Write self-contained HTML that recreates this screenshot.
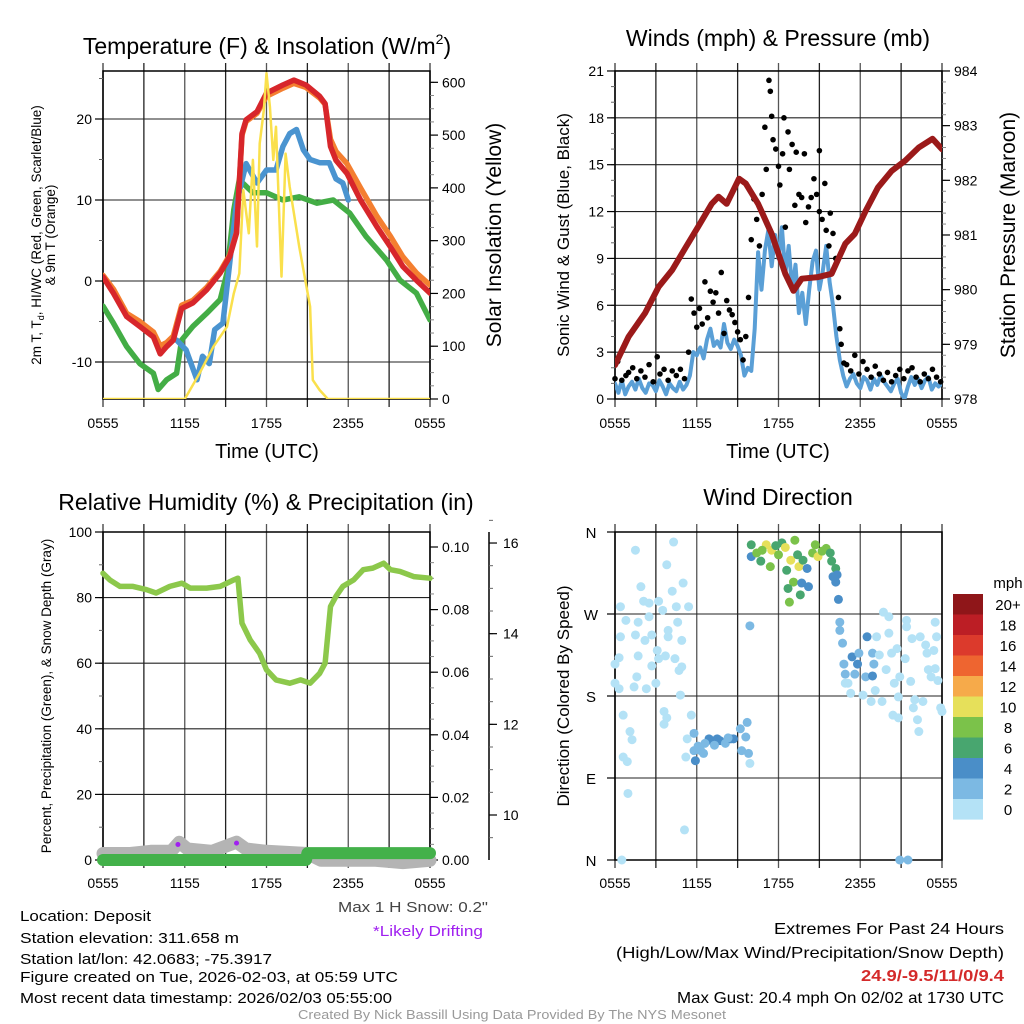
<!DOCTYPE html>
<html><head><meta charset="utf-8"><title>Deposit Meteogram</title>
<style>
html,body{margin:0;padding:0;background:#fff;}
svg{display:block;font-family:"Liberation Sans",Arial,sans-serif;}
</style></head>
<body>
<svg id="c" width="1024" height="1024" viewBox="0 0 1024 1024" xmlns="http://www.w3.org/2000/svg">
<defs>
<clipPath id="clipL1"><rect x="103" y="71" width="327" height="328"/></clipPath>
<clipPath id="clipR1"><rect x="615" y="71" width="327" height="328"/></clipPath>
<clipPath id="clipL2"><rect x="90" y="520" width="352" height="352"/></clipPath>
<clipPath id="clipR2"><rect x="605" y="526" width="345" height="340"/></clipPath>
</defs>
<rect x="0" y="0" width="1024" height="1024" fill="#fff"/>
<g id="layer"></g>

<text x="267" y="54" font-size="23" text-anchor="middle">Temperature (F) &amp; Insolation (W/m<tspan font-size="14" dy="-10">2</tspan><tspan dy="10">)</tspan></text>
<text x="778" y="46" font-size="23" text-anchor="middle">Winds (mph) &amp; Pressure (mb)</text>
<text x="266" y="510" font-size="23" text-anchor="middle">Relative Humidity (%) &amp; Precipitation (in)</text>
<text x="778" y="505" font-size="23" text-anchor="middle">Wind Direction</text>

<text x="267" y="458" font-size="20" text-anchor="middle">Time (UTC)</text>
<text x="778" y="458" font-size="20" text-anchor="middle">Time (UTC)</text>

<text transform="translate(41,235) rotate(-90)" font-size="13.5" text-anchor="middle">2m T, T<tspan font-size="9" dy="3">d</tspan><tspan dy="-3">, HI/WC (Red, Green, Scarlet/Blue)</tspan></text>
<text transform="translate(55,235) rotate(-90)" font-size="13.5" text-anchor="middle">&amp; 9m T (Orange)</text>
<text transform="translate(501,235) rotate(-90)" font-size="21" text-anchor="middle">Solar Insolation (Yellow)</text>
<text transform="translate(569,235) rotate(-90)" font-size="17" text-anchor="middle">Sonic Wind &amp; Gust (Blue, Black)</text>
<text transform="translate(1015,235) rotate(-90)" font-size="21" text-anchor="middle">Station Pressure (Maroon)</text>
<text transform="translate(51,696) rotate(-90)" font-size="13.5" text-anchor="middle">Percent, Precipitation (Green), &amp; Snow Depth (Gray)</text>
<text transform="translate(569,696) rotate(-90)" font-size="17" text-anchor="middle">Direction (Colored By Speed)</text>

<text x="413" y="912" font-size="15" fill="#444" text-anchor="middle" textLength="150" lengthAdjust="spacingAndGlyphs">Max 1 H Snow: 0.2"</text>
<text x="428" y="936" font-size="15" fill="#a020f0" text-anchor="middle" textLength="110" lengthAdjust="spacingAndGlyphs">*Likely Drifting</text>
<text x="20" y="921" font-size="15" textLength="131" lengthAdjust="spacingAndGlyphs">Location: Deposit</text>
<text x="20" y="943" font-size="15" textLength="219" lengthAdjust="spacingAndGlyphs">Station elevation: 311.658 m</text>
<text x="20" y="964" font-size="15" textLength="252" lengthAdjust="spacingAndGlyphs">Station lat/lon: 42.0683; -75.3917</text>
<text x="20" y="982" font-size="15" textLength="378" lengthAdjust="spacingAndGlyphs">Figure created on Tue, 2026-02-03, at 05:59 UTC</text>
<text x="20" y="1003" font-size="15" textLength="372" lengthAdjust="spacingAndGlyphs">Most recent data timestamp: 2026/02/03 05:55:00</text>
<text x="1004" y="934" font-size="16" text-anchor="end" textLength="230" lengthAdjust="spacingAndGlyphs">Extremes For Past 24 Hours</text>
<text x="1004" y="958" font-size="16" text-anchor="end" textLength="388" lengthAdjust="spacingAndGlyphs">(High/Low/Max Wind/Precipitation/Snow Depth)</text>
<text x="1004" y="981" font-size="16" font-weight="bold" fill="#d42a2a" text-anchor="end" textLength="143" lengthAdjust="spacingAndGlyphs">24.9/-9.5/11/0/9.4</text>
<text x="1004" y="1003" font-size="16" text-anchor="end" textLength="327" lengthAdjust="spacingAndGlyphs">Max Gust: 20.4 mph On 02/02 at 1730 UTC</text>
<text x="512" y="1019" font-size="13" fill="#999" text-anchor="middle" textLength="428" lengthAdjust="spacingAndGlyphs">Created By Nick Bassill Using Data Provided By The NYS Mesonet</text>
</svg>

<script>
const xTickLabels = ["0555","1155","1755","2355","0555"];
const tempT   = [0,0.76,1.74,2.7,3.7,4.2,4.67,5.16,5.77,6.6,7.6,8.6,9.3,9.8,10.2,10.5,11.3,12,13.2,14,14.9,15.9,16.3,16.7,17.1,17.9,18.9,20.1,21.1,22,23,24];
const tempRed = [0.5,-1.5,-4.4,-5.6,-6.9,-9,-8.1,-7.3,-3.4,-2.7,-1.1,1,3,5.9,18.2,19.9,20.9,23.2,24.2,24.8,24.2,22.8,21.9,16.6,14.9,13.3,10,6.7,4.2,1.8,0.1,-1.5];
const tempOrange = [0.7,-1,-4,-5,-6.3,-8,-7.6,-6.8,-3,-2.4,-0.8,1.2,3.2,6,18,19.7,20.7,22.8,23.8,24.4,23.9,22.6,21.8,17.5,16,14.5,11.5,8,5.5,3,1,-0.5];
const dewT = [0,0.76,1.74,2.7,3.7,4.05,4.67,5.4,5.77,6.6,7.6,8.6,9.1,9.6,10,11,12,13.2,14.4,15.7,16.9,18.1,19.3,20.8,21.8,23,24];
const dewV = [-3.1,-5.2,-8.1,-10.2,-11.4,-13.4,-12.2,-11.4,-7.3,-5.6,-4,-2.3,1,8.8,12.5,10.9,10.9,10,10.4,9.6,10,8.4,5.5,2.6,0.1,-1.5,-4.8];
const wcT = [5.4,6.1,6.9,7.3,7.8,8.2,8.8,9.3,9.8,10.5,11.3,12,12.7,13.2,13.7,14.2,14.7,15.2,15.9,16.6,17.1,17.6,18];
const wcV = [-7.3,-8.5,-12.2,-9.3,-10.2,-6,-5.2,2.2,9.6,14.5,12.1,13.7,13.7,16.6,18.2,18.7,16.2,15,14.6,14.6,12.6,12.1,10];
const solarT = [0,6,7.1,8.1,9.1,9.6,10,10.3,10.7,11,11.3,11.5,11.8,12,12.25,12.5,12.7,13.1,13.4,13.7,14.4,15.2,15.4,15.9,16.5,24];
const solarV = [0,0,49,99,137,200,238,396,314,453,289,484,547,617,554,453,516,232,465,402,289,175,36,17,0,0];
const tempTicks = [-10,0,10,20];
const solarTicks = [0,100,200,300,400,500,600];

const presT = [0,1,2.2,3.2,4.2,5.2,6.1,7.1,7.6,8.2,9.1,9.6,10.5,11.5,12.5,13.1,13.7,14.9,15.9,16.9,17.6,18.4,19.3,20.3,21.3,22.3,23.3,24];
const presV = [978.62,979.14,979.57,980.05,980.36,980.78,981.15,981.57,981.7,981.57,982.03,981.94,981.57,981.02,980.29,979.98,980.2,980.23,980.29,980.84,981.02,981.44,981.87,982.17,982.36,982.6,982.76,982.57];
// sonic wind sampled every 15 minutes
const windV = [1,0.4,1.2,0.3,0.8,1.1,0.6,1.3,0.7,0.4,1,0.9,0.5,1.2,0.8,0.3,1,0.7,0.5,1.1,0.6,0.9,1.5,
 3,2.8,3.3,2.6,3.8,4.5,3.4,3.7,3.3,4.8,3.6,3.2,3.8,3.4,2.8,1.5,2,1.8,
 4.5,9.4,7,9.5,10.8,8.5,10.5,9,11,8,9.8,7,8.6,5.5,6.8,4.8,7,8.8,9.5,7,8.2,9.8,7.5,6,4,2.5,
 1.5,0.8,1.3,1.6,1,0.7,1.4,1.2,0.6,1.3,0.9,1.5,1.1,0.8,0.5,1,1.3,0.4,0,0.8,1.4,0.9,1.3,0.7,1.2,1.4,0.6,1,0.8,1];
const windT = [];
for (let i = 0; i < windV.length; i++) windT.push(i * 0.25);
const gustT = [0,0.2,0.5,0.8,1,1.3,1.6,1.9,2.2,2.5,2.8,3.1,3.3,3.6,3.9,4.2,4.5,4.8,5.1,5.4,5.6,5.8,6,6.2,6.4,6.6,6.8,7,7.2,7.4,7.6,7.8,8,8.2,8.4,8.6,8.8,9,9.2,9.4,9.6,9.8,10,10.2,10.4,10.6,10.8,11,11.1,11.3,11.4,11.5,11.6,11.8,12,12.1,12.3,12.4,12.5,12.7,12.8,13,13.2,13.3,13.5,13.7,13.9,14,14.2,14.4,14.6,14.8,15,15,15.2,15.4,15.5,15.7,15.8,16,16.2,16.4,16.5,16.6,16.8,17,17.3,17.6,17.9,18.2,18.5,18.8,19.1,19.4,19.7,20,20.3,20.6,20.9,21.2,21.5,21.8,22.1,22.4,22.7,23,23.3,23.6,23.9];
const gustV = [1.3,2.4,1.2,1.5,1.7,2,1.3,1.8,1.4,2.2,1.1,2.7,1.6,1.9,1.2,1.8,1.5,1.9,1.3,3,6.4,5.5,4.6,5.8,4.8,7.5,5.2,6.9,6.2,6.8,5.5,8.1,4.2,6.3,5.7,5.4,4.9,4.3,3.8,2.5,4,6.5,10.2,12.8,11.5,9.8,13.1,17.4,14.7,20.4,19.7,18.1,16.6,16,14.9,13.7,15.7,18,11,17.1,14.7,16.3,12.4,15.8,13.1,12.9,15.7,11.3,12.3,12.9,14.1,13.1,12,15.9,11.5,13.8,10.8,9.8,11.9,10.6,9,6.5,4.5,3.5,2.3,2.2,1.8,2.8,1.6,2.4,1.9,1.4,2.1,1.6,1.2,1.7,1.1,1.5,1.9,1.3,1.8,2,1.4,1.1,1.6,1.3,1.9,1.4,1.1];
const windTicks = [0,3,6,9,12,15,18,21];
const presTicks = [978,979,980,981,982,983,984];

const rhT = [0,0.5,1.25,2.2,3.2,3.9,4.9,5.8,6.4,7.6,8.6,9.6,9.9,10.2,10.8,11.5,12,12.7,13.7,14.5,15.2,15.9,16.3,16.7,17.1,17.6,18.4,19.1,19.8,20.6,21.1,21.8,22.8,24];
const rhV = [87.4,85.4,83.4,83.4,82.4,81.4,83.4,84.4,82.9,82.9,83.4,85.4,85.9,72.2,67.1,63,58,54.9,53.9,54.9,53.9,56.9,60,77.3,80.4,83.4,85.4,88.5,89,90.5,88.5,88,86.4,85.9];
const precipT = [0,14.9,15,24];
const precipV = [0,0,0.0022,0.0022];
const snowT = [0,2,3.5,5,5.6,6.2,8,9.8,10.5,12,15,16,20,22,24];
const snowV = [9.15,9.15,9.2,9.2,9.4,9.25,9.2,9.4,9.25,9.2,9.15,9.0,9.0,8.95,9.0];
const driftT = [5.5,9.8];
const driftV = [9.35,9.38];
const rhTicks = [0,20,40,60,80,100];
const precipTicks = [0,0.02,0.04,0.06,0.08,0.10];
const snowTicks = [10,12,14,16];

const dirT = [1.5,4.3,3.8,1.9,5,4.2,0.4,2.1,2.5,3.2,3.5,4.5,5.4,0.8,1.7,2.5,3.9,4.6,0.4,1.5,2.2,2.7,3.9,4.9,0,0.3,1.7,2.7,3.1,3.7,3.2,4.4,4.9,4.7,1.6,0,0.3,1.4,2.3,3,4.8,0.6,1.1,1.25,3.6,3.8,3.6,5.6,5.3,5.2,0.6,0.9,0.95,5.1,0.5,20.9,21.5,
 5.8,5.9,6.3,6.5,6.9,7.1,7.5,7.7,8.1,8.5,8.7,9.2,9.6,9.7,9.3,9.8,9.9,5.8,6.1,6.6,7.3,8.3,
 10,10,10.4,10.7,11.1,11.4,11.5,12,12.25,12.5,12.6,12.9,13.1,13.2,13.5,13.4,12.7,12.8,13.6,13.7,13.8,14.1,14.2,14.5,14.7,14.9,15.2,15.5,15.8,15.9,16.2,16,16.3,16.2,16.4,16.5,16.5,16.7,9.9,10.8,11.8,
 16.8,16.9,17.4,17.8,17.6,17.1,17.3,17.9,18.4,18.5,18.9,19,18.9,19.1,19.2,19.4,19.7,20.1,20.1,19.9,20.3,20.5,20.7,20.8,20.9,20.4,20.8,21.3,21.4,21.4,21.7,21.8,22,22.2,22.3,22.4,22.8,22.9,23,23.2,23.4,23.5,23.6,23.7,23.9,24,23.5,22.6,21.9,19.6,18.8,18.2,16.9];
const dirV = [340,349,324,300,304,295,278,284,282,284,274,278,278,263,261,267,252,261,245,247,241,247,245,241,215,222,224,213,230,224,221,221,212,208,201,194,188,190,188,194,181,159,141,132,163,156,149,159,133,113,113,108,73,33,0,0,0,
 120,109,120,117,133,131,133,131,128,133,133,144,135,151,120,117,106,139,125,128,126,134,
 346,333,337,328,346,322,340,335,348,343,318,329,305,351,322,335,298,283,291,304,329,320,300,337,346,333,339,342,337,328,320,311,313,305,286,261,252,238,257,340,345,
 215,204,223,215,204,194,183,227,201,245,227,215,202,186,245,225,272,267,249,209,227,194,232,179,201,159,156,221,263,256,196,243,176,154,141,245,236,227,209,201,230,261,245,197,167,163,210,174,167,174,174,181,194];
const dirS = [1,1,1,1,1,1,1,1,1,1,1,1,1,1,1,1,1,1,1,1,1,1,1,1,1,1,1,1,1,1,1,1,1,1,1,1,1,1,1,1,1,1,1,1,1,1,1,1,1,1,1,1,1,1,1,2,2,
 3,5,3,3,5,5,5,4,3,5,5,3,3,3,3,3,1,3,3,3,3,3,
 7,5,9,7,10,8,10,9,7,10,7,10,9,9,10,7,7,9,7,5,7,5,5,9,9,10,9,9,7,7,7,5,5,5,5,3,3,3,3,8,6,
 3,3,5,5,3,1,1,3,3,5,3,3,5,1,1,1,1,1,1,1,1,1,1,1,1,1,1,1,1,1,1,1,1,1,1,1,1,1,1,1,1,1,1,1,1,1,1,1,1,1,1,1,1];
const dirLabels = ["N","E","S","W","N"];
const dirTicks = [0,90,180,270,360];
const speedLabels = ["0","2","4","6","8","10","12","14","16","18","20+"];
const speedColors = ["#b4e2f6","#7cb9e3","#4a8ec8","#48a66f","#7bc24a","#e6e05a","#f6aa4a","#ee6530","#dc3a2c","#bc1e25","#8f1619"];

const p1x = t => 103 + t * 327 / 24;
const p2x = t => 615 + t * 327 / 24;
const yTemp = v => 281 - v * 8.1;
const ySolar = v => 399 - v * 0.5278;
const yWind = v => 399 - v * 15.62;
const yPres = v => 399 - (v - 978) * 54.67;
const yRH = v => 860 - v * 3.28;
const yPrecip = v => 860 - v * 3130;
const ySnow = v => 815 - (v - 10) * 45.33;
const yDir = d => 860 - d * 328 / 360;

const NS = 'http://www.w3.org/2000/svg';
const layer = document.getElementById('layer');

function el(tag, attrs, parent, name) {
  const e = document.createElementNS(NS, tag);
  for (const k in attrs) e.setAttribute(k, attrs[k]);
  
  
  (parent || layer).appendChild(e);
  return e;
}
function txt(x, y, s, size, anchor, name, fill) {
  const e = el('text', {x: x, y: y, 'font-size': size, 'text-anchor': anchor, fill: fill || '#000'}, layer, name);
  e.textContent = s;
  return e;
}
function poly(ts, vs, fx, fy, color, w, clip, name) {
  const pts = ts.map((t, i) => fx(t).toFixed(1) + ',' + fy(vs[i]).toFixed(1)).join(' ');
  return el('polyline', {points: pts, fill: 'none', stroke: color, 'stroke-width': w, 'stroke-linejoin': 'round', 'stroke-linecap': 'round', 'clip-path': 'url(#' + clip + ')'}, layer, name);
}
function frame(x0, y0, x1, y1, hy, prefix) {
  for (let i = 0; i <= 8; i++) {
    const x = x0 + i * (x1 - x0) / 8;
    el('line', {x1: x, y1: y0 - 8, x2: x, y2: y1 + 8, stroke: (i % 2 ? '#222' : '#555'), 'stroke-width': (i === 0 || i === 8) ? 1.5 : 1.3}, layer, prefix + '-vertical-grid-line');
  }
  hy.forEach(y => {
    el('line', {x1: x0, y1: y, x2: x1, y2: y, stroke: '#222', 'stroke-width': 1.1}, layer, prefix + '-horizontal-grid-line');
  });
  el('rect', {x: x0, y: y0, width: x1 - x0, height: y1 - y0, fill: 'none', stroke: '#000', 'stroke-width': 1.5}, layer, prefix + '-plot-frame');
}
function xLabels(fx, y, prefix) {
  xTickLabels.forEach((s, i) => txt(fx(i * 6), y, s, 14, 'middle', prefix + '-x-tick-label'));
}
function leftTicks(x, ticks, minorStep, fy, lo, hi, prefix, fmt) {
  for (let v = lo; v <= hi + 1e-9; v += minorStep) {
    el('line', {x1: x - 4, y1: fy(v), x2: x, y2: fy(v), stroke: '#666', 'stroke-width': 1}, layer, prefix + '-minor-tick');
  }
  ticks.forEach(v => {
    el('line', {x1: x - 8, y1: fy(v), x2: x, y2: fy(v), stroke: '#000', 'stroke-width': 1.2}, layer, prefix + '-major-tick');
    txt(x - 11, fy(v) + 5, fmt ? fmt(v) : String(v), 14, 'end', prefix + '-tick-label');
  });
}
function rightTicks(x, ticks, minorStep, fy, lo, hi, prefix, fmt) {
  for (let v = lo; v <= hi + 1e-9; v += minorStep) {
    el('line', {x1: x, y1: fy(v), x2: x + 4, y2: fy(v), stroke: '#888', 'stroke-width': 1}, layer, prefix + '-minor-tick');
  }
  ticks.forEach(v => {
    el('line', {x1: x, y1: fy(v), x2: x + 8, y2: fy(v), stroke: '#000', 'stroke-width': 1.2}, layer, prefix + '-major-tick');
    txt(x + 12, fy(v) + 5, fmt ? fmt(v) : String(v), 14, 'start', prefix + '-tick-label');
  });
}

// PANEL 1
frame(103, 71, 430, 399, tempTicks.map(yTemp), 'temperature');
leftTicks(103, tempTicks, 5, yTemp, -10, 25, 'temperature-y');
rightTicks(430, solarTicks, 25, ySolar, 0, 600, 'solar-y');
xLabels(p1x, 428, 'temperature');
poly(dewT, dewV, p1x, yTemp, '#43ad45', 5.5, 'clipL1', 'dewpoint-line');
poly(wcT, wcV, p1x, yTemp, '#4a94d0', 5.5, 'clipL1', 'windchill-line');
poly(tempT, tempOrange, p1x, yTemp, '#f47f30', 5.5, 'clipL1', 'temperature-9m-line');
poly(tempT, tempRed, p1x, yTemp, '#d7262b', 5.5, 'clipL1', 'temperature-2m-line');
poly(solarT, solarV, p1x, ySolar, '#fae04c', 2.5, 'clipL1', 'solar-insolation-line');

// PANEL 2
frame(615, 71, 942, 399, windTicks.map(yWind), 'wind');
leftTicks(615, windTicks, 1, yWind, 0, 21, 'wind-y');
rightTicks(942, presTicks, 0.2, yPres, 978, 984, 'pressure-y');
xLabels(p2x, 428, 'wind');
poly(windT, windV, p2x, yWind, '#5a9fd6', 4, 'clipR1', 'sonic-wind-line');
gustT.forEach((t, i) => {
  const d = el('circle', {cx: p2x(t), cy: yWind(gustV[i]), r: 2.8, fill: '#000'}, layer, 'gust-point');
  
});
poly(presT, presV, p2x, yPres, '#9b1a1a', 6, 'clipR1', 'station-pressure-line');

// PANEL 3
frame(103, 532, 430, 860, rhTicks.map(yRH), 'humidity');
leftTicks(103, rhTicks, 10, yRH, 0, 100, 'humidity-y');
rightTicks(430, precipTicks, 0.005, yPrecip, 0, 0.1, 'precip-y', v => v.toFixed(2));
el('line', {x1: 489, y1: 532, x2: 489, y2: 860, stroke: '#000', 'stroke-width': 1.5}, layer, 'snow-depth-axis-line');
for (let v = 9.5; v <= 16.5; v += 0.5) {
  el('line', {x1: 489, y1: ySnow(v), x2: 493, y2: ySnow(v), stroke: '#666', 'stroke-width': 1}, layer, 'snow-depth-minor-tick');
}
snowTicks.forEach(v => {
  el('line', {x1: 489, y1: ySnow(v), x2: 497, y2: ySnow(v), stroke: '#000', 'stroke-width': 1.2}, layer, 'snow-depth-major-tick');
  txt(503, ySnow(v) + 5, String(v), 14, 'start', 'snow-depth-tick-label');
});
xLabels(p1x, 888, 'humidity');
poly(snowT, snowV, p1x, ySnow, '#b4b4b4', 13, 'clipL2', 'snow-depth-line');
poly(precipT, precipV, p1x, yPrecip, '#43b14a', 12, 'clipL2', 'precipitation-line');
driftT.forEach((t, i) => {
  const d = el('circle', {cx: p1x(t), cy: ySnow(driftV[i]), r: 2.5, fill: '#a020f0'}, layer, 'drifting-marker');
  
});
poly(rhT, rhV, p1x, yRH, '#8cc84b', 5.5, 'clipL2', 'relative-humidity-line');

// PANEL 4
frame(615, 532, 942, 860, dirTicks.map(yDir), 'direction');
dirTicks.forEach((v, i) => {
  el('line', {x1: 607, y1: yDir(v), x2: 615, y2: yDir(v), stroke: '#000', 'stroke-width': 1.2}, layer, 'direction-major-tick');
  txt(591, yDir(v) + 6, dirLabels[i], 15, 'middle', 'direction-tick-label');
});
xLabels(p2x, 888, 'direction');
dirT.forEach((t, i) => {
  const bin = Math.min(10, Math.floor(dirS[i] / 2));
  const d = el('circle', {cx: p2x(t), cy: yDir(dirV[i]), r: 4.5, fill: speedColors[bin], 'clip-path': 'url(#clipR2)'}, layer, 'direction-point');
  
});
txt(1008, 588, 'mph', 15, 'middle', 'speed-legend-title');
speedLabels.forEach((s, i) => {
  const k = 10 - i;
  const y = 594 + i * 20.5;
  const r = el('rect', {x: 953, y: y, width: 30, height: 20.6, fill: speedColors[k]}, layer, 'speed-legend-swatch');
  
  txt(1008, y + 16, speedLabels[k], 15, 'middle', 'speed-legend-label');
});
</script>
</body></html>
